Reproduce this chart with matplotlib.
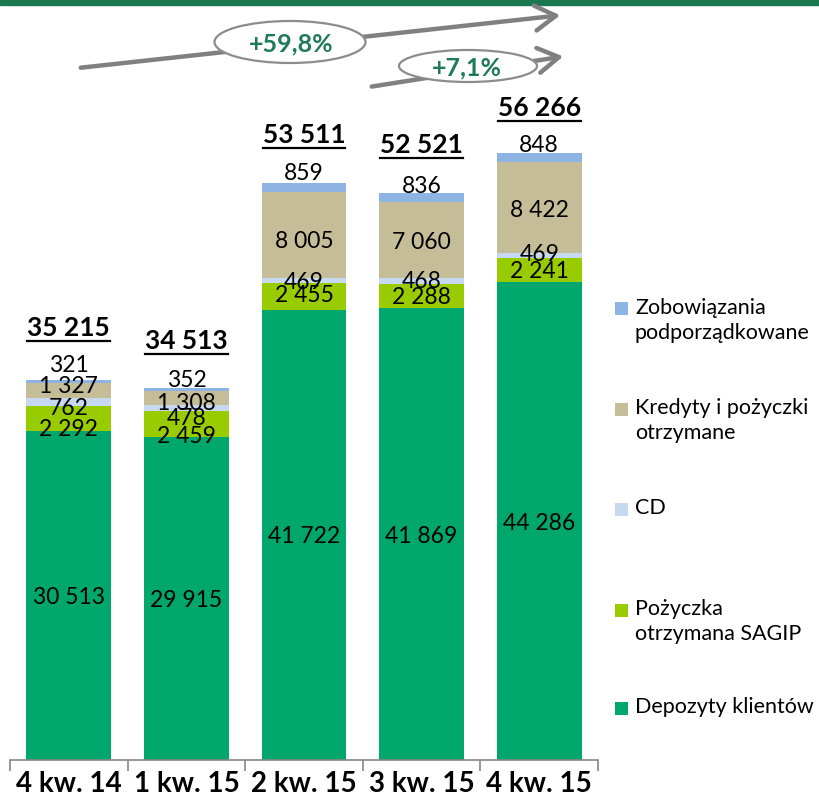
import matplotlib
matplotlib.use("Agg")
import matplotlib.pyplot as plt
from matplotlib.patches import Rectangle, Ellipse, FancyArrowPatch
from matplotlib.lines import Line2D
import numpy as np

plt.rcParams['font.family'] = ['Lato', 'DejaVu Sans']

# ---- data ----
categories = ["4 kw. 14", "1 kw. 15", "2 kw. 15", "3 kw. 15", "4 kw. 15"]
depozyty = [30513, 29915, 41722, 41869, 44286]
sagip = [2292, 2459, 2455, 2288, 2241]
cd = [762, 478, 469, 468, 469]
kredyty = [1327, 1308, 8005, 7060, 8422]
zobow = [321, 352, 859, 836, 848]
totals = [35215, 34513, 53511, 52521, 56266]
series_names = ["Depozyty klientów", "Pożyczka\notrzymana SAGIP", "CD",
                "Kredyty i pożyczki\notrzymane", "Zobowiązania\npodporządkowane"]
growth_labels = ["+59,8%", "+7,1%"]

colors = ["#00A76D", "#99CC00", "#C6D9F1", "#C4BD97", "#8DB4E2"]

# label vertical offsets in pixels (positive = down), layout only
lab_off = {
    1: [9, 11, -3, 0, -1],
    2: [5, 8, 0, -1, -3],
    3: [-6, 3, 4, 0, 1],
}
zob_gap = [8, 1, 3, 0, 1]
tot_gap = [44, 39, 40, 40, 37]

W, H = 819, 800
fig = plt.figure(figsize=(W / 100, H / 100), dpi=100)

def P(x, y):
    return (x / W, 1 - y / H)

# axes placement (pixels)
ax_left, ax_right, ax_bottom, ax_top = 10, 598, 760, 100
ax = fig.add_axes([ax_left / W, 1 - ax_bottom / H, (ax_right - ax_left) / W, (ax_bottom - ax_top) / H])
px_per_unit = 380 / 35215
ax.set_ylim(0, (ax_bottom - ax_top) / px_per_unit)
ax.set_xlim(-0.5, len(categories) - 0.5)

x = np.arange(len(categories))
stack = [depozyty, sagip, cd, kredyty, zobow]
bottom = np.zeros(len(categories))
bar_w = 0.72
seg_fs = 16.5
for i, (vals, col) in enumerate(zip(stack, colors)):
    ax.bar(x, vals, bar_w, bottom=bottom, color=col, edgecolor='none', zorder=2)
    for j, v in enumerate(vals):
        lbl = f"{v:,}".replace(",", " ")
        if i == 4:
            top = bottom[j] + v
            ax.annotate(lbl, (x[j], top), xytext=(0, zob_gap[j] * 0.72), textcoords='offset points',
                        ha='center', va='baseline', fontsize=seg_fs, color='black', zorder=5)
        else:
            c = bottom[j] + v / 2
            off = lab_off.get(i, [0] * 5)[j]
            ax.annotate(lbl, (x[j], c), xytext=(0, -off * 0.72), textcoords='offset points',
                        ha='center', va='center_baseline', fontsize=seg_fs, color='black', zorder=5)
    bottom = bottom + np.array(vals)

# totals with underline
tot_texts = []
for j, t in enumerate(totals):
    txt = ax.annotate(f"{t:,}".replace(",", " "), (x[j], bottom[j]), xytext=(0, tot_gap[j] * 0.72),
                      textcoords='offset points', ha='center', va='baseline', fontsize=19,
                      fontweight='bold', color='black', zorder=5)
    tot_texts.append(txt)

# axis styling
for s in ['top', 'right', 'left']:
    ax.spines[s].set_visible(False)
ax.spines['bottom'].set_color('#868686')
ax.spines['bottom'].set_linewidth(1.2)
ax.set_yticks([])
ax.set_xticks(x)
ax.set_xticklabels(categories, fontsize=20, fontweight='bold')
ax.tick_params(axis='x', which='major', length=0, pad=8)
ax.set_xticks(np.arange(-0.5, len(categories)), minor=True)
ax.tick_params(axis='x', which='minor', length=8, width=1.2, color='#868686')

# top green band
fig.patches.append(Rectangle(P(0, 5), 1, 5 / H, transform=fig.transFigure, color='#1C7850', zorder=0))

# growth arrows
arrow_col = '#808080'
astyle = '->,head_length=1.5,head_width=0.9'
a1 = FancyArrowPatch(P(78, 68), P(563, 15), transform=fig.transFigure, arrowstyle=astyle,
                     mutation_scale=10, color=arrow_col, lw=3.2, zorder=3)
a2 = FancyArrowPatch(P(369, 87), P(566, 56), transform=fig.transFigure, arrowstyle=astyle,
                     mutation_scale=10, color=arrow_col, lw=3.2, zorder=3)
fig.patches.extend([a1, a2])
e1 = Ellipse(P(290, 42), 151 / W, 42 / H, transform=fig.transFigure, facecolor='white', edgecolor='#8C8C8C', lw=1.6, zorder=4)
e2 = Ellipse(P(468, 66), 138 / W, 32 / H, transform=fig.transFigure, facecolor='white', edgecolor='#8C8C8C', lw=1.6, zorder=4)
fig.patches.extend([e1, e2])
fig.text(*P(291, 44), growth_labels[0], ha='center', va='center', fontsize=18, fontweight='bold', color='#1E7B55', zorder=6)
fig.text(*P(467, 68), growth_labels[1], ha='center', va='center', fontsize=18, fontweight='bold', color='#1E7B55', zorder=6)

# legend (manual, top to bottom)
leg_y = [309, 409, 509, 610, 708]
order = [4, 3, 2, 1, 0]
for yy, idx in zip(leg_y, order):
    fig.patches.append(Rectangle(P(615, yy + 6.5), 13 / W, 13 / H, transform=fig.transFigure,
                                 facecolor=colors[idx], edgecolor='none'))
    fig.text(*P(635, yy - 11), series_names[idx], ha='left', va='top', fontsize=15.5,
             color='#000000', linespacing=1.3)

# underlines for totals
fig.canvas.draw()
r = fig.canvas.get_renderer()
for txt in tot_texts:
    bb = txt.get_window_extent(r)
    yline = bb.y0 - 1
    fig.lines.append(Line2D([bb.x0 / W, bb.x1 / W], [yline / H, yline / H], transform=fig.transFigure,
                            color='black', lw=1.6))

fig.savefig("out.png", dpi=100)
